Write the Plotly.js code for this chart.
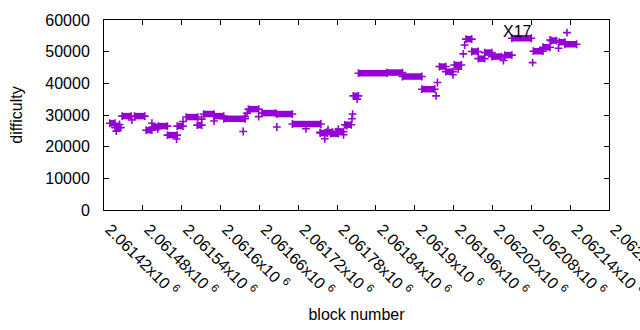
<!DOCTYPE html>
<html>
<head>
<meta charset="utf-8">
<script src="https://cdn.plot.ly/plotly-3.0.1.min.js"></script>
<style>html,body{margin:0;padding:0;background:#fff;}#chart{width:640px;height:330px;}</style>
</head>
<body>
<div id="chart"></div>
<script>
// Plateaus of constant difficulty (many consecutive blocks with the same value)
var plateauStart = [2061429,2061437,2061448,2061467,2061485,2061495,2061504,2061518,2061533,2061547,
  2061564,2061574,2061590,2061605,2061643,2061664,2061687,2061711,2061754,2061764,
  2061770,2061779,2061792,2061805,2061813,2061857,2061881,2061911,2061938,2061948,
  2061961,2061979,2061988,2061998,2062008,2062019,2062039,2062050,2062083,2062098,
  2062111,2062123,2062132];
var plateauEnd = [2061437,2061446,2061462,2061483,2061494,2061504,2061518,2061533,2061542,2061565,
  2061571,2061590,2061605,2061638,2061659,2061685,2061711,2061755,2061765,2061773,
  2061782,2061790,2061802,2061813,2061857,2061881,2061911,2061931,2061948,2061959,
  2061972,2061988,2061998,2062008,2062019,2062034,2062050,2062080,2062098,2062109,
  2062119,2062132,2062150];
var plateauValue = [27400,26000,29650,29650,25200,26200,26500,23650,26500,29350,
  26800,30300,29650,28800,31850,30600,30300,27150,24300,24600,
  24100,24700,26900,36050,43200,43400,42150,38150,45300,43700,
  45800,53950,50050,47800,49700,48450,48900,54250,50150,51400,
  53500,53000,52350];

// Individual blocks off the plateaus
var singleBlock = [2061439,2061444,2061463,2061494,2061503,2061532,2061542,2061571,2061590,2061635,
  2061638,2061641,2061659,2061687,2061732,2061754,2061761,2061766,2061782,2061790,
  2061795,2061803,2061804,2061811,2061933,2061935,2061959,2061967,2061975,2061977,
  2062037,2062039,2062082,2062109,2062122,2062135];
var singleValue = [24900,27000,28400,27400,25650,22400,27950,28700,28100,24800,
  29500,30600,29500,26200,25650,24500,22500,25350,25550,23750,
  26600,28800,30300,35000,36050,40250,42700,44500,49300,52100,
  47200,48450,46550,53700,51100,56000];

var tickValues = [2061420,2061480,2061540,2061600,2061660,2061720,2061780,2061840,2061900,2061960,2062020,2062080,2062140,2062200];
var tickMantissa = ["2.06142","2.06148","2.06154","2.0616","2.06166","2.06172","2.06178","2.06184","2.0619","2.06196","2.06202","2.06208","2.06214","2.0622"];

var labelText = "X17";
var labelBlock = 2062059;
var labelValue = 56250;

var color = "#9400d3";
var px = [], py = [];
for (var i = 0; i < plateauStart.length; i++) {
  px.push(plateauStart[i], plateauEnd[i], null);
  py.push(plateauValue[i], plateauValue[i], null);
}

var traces = [
  {x: px, y: py, type: "scatter", mode: "lines+markers", hoverinfo: "skip",
   line: {color: color, width: 6.5},
   marker: {symbol: "cross-thin", size: 5.6, color: color, line: {color: color, width: 1.6}}},
  {x: singleBlock, y: singleValue, type: "scatter", mode: "markers",
   marker: {symbol: "cross-thin", size: 5.6, color: color, line: {color: color, width: 1.6}}}
];

var font = "Liberation Sans, Arial, sans-serif";
var layout = {
  width: 640, height: 330,
  margin: {l: 104, r: 31, t: 20, b: 120},
  paper_bgcolor: "#fff", plot_bgcolor: "#fff",
  showlegend: false,
  font: {family: font, size: 16, color: "#000"},
  xaxis: {
    range: [2061420, 2062200], autorange: false,
    tickvals: tickValues,
    ticktext: tickMantissa.map(function(m){ return m + "x10 <sup>6</sup>"; }),
    tickangle: 45, ticks: "inside", ticklen: 5, tickcolor: "#000",
    showline: true, linecolor: "#000", linewidth: 1, mirror: "allticks",
    showgrid: false, zeroline: false,
    ticklabelstandoff: 3, ticklabelshift: 6, ticklabeloverflow: "allow",
    tickfont: {family: font, size: 16, color: "#000"},
    title: {text: "block number", font: {family: font, size: 16, color: "#000"}, standoff: 10}
  },
  yaxis: {
    range: [0, 60000], autorange: false, dtick: 10000, tick0: 0, tickformat: "d",
    ticks: "inside", ticklen: 5, tickcolor: "#000",
    showline: true, linecolor: "#000", linewidth: 1, mirror: "allticks",
    showgrid: false, zeroline: false,
    ticklabelstandoff: 10,
    tickfont: {family: font, size: 16, color: "#000"},
    title: {text: "difficulty", font: {family: font, size: 16, color: "#000"}, standoff: 18}
  },
  annotations: [{x: labelBlock, y: labelValue, xref: "x", yref: "y", text: labelText, showarrow: false,
    xanchor: "center", yanchor: "middle", font: {family: font, size: 16, color: "#000"}}]
};
Plotly.newPlot("chart", traces, layout, {staticPlot: true, displayModeBar: false});
</script>
</body>
</html>
